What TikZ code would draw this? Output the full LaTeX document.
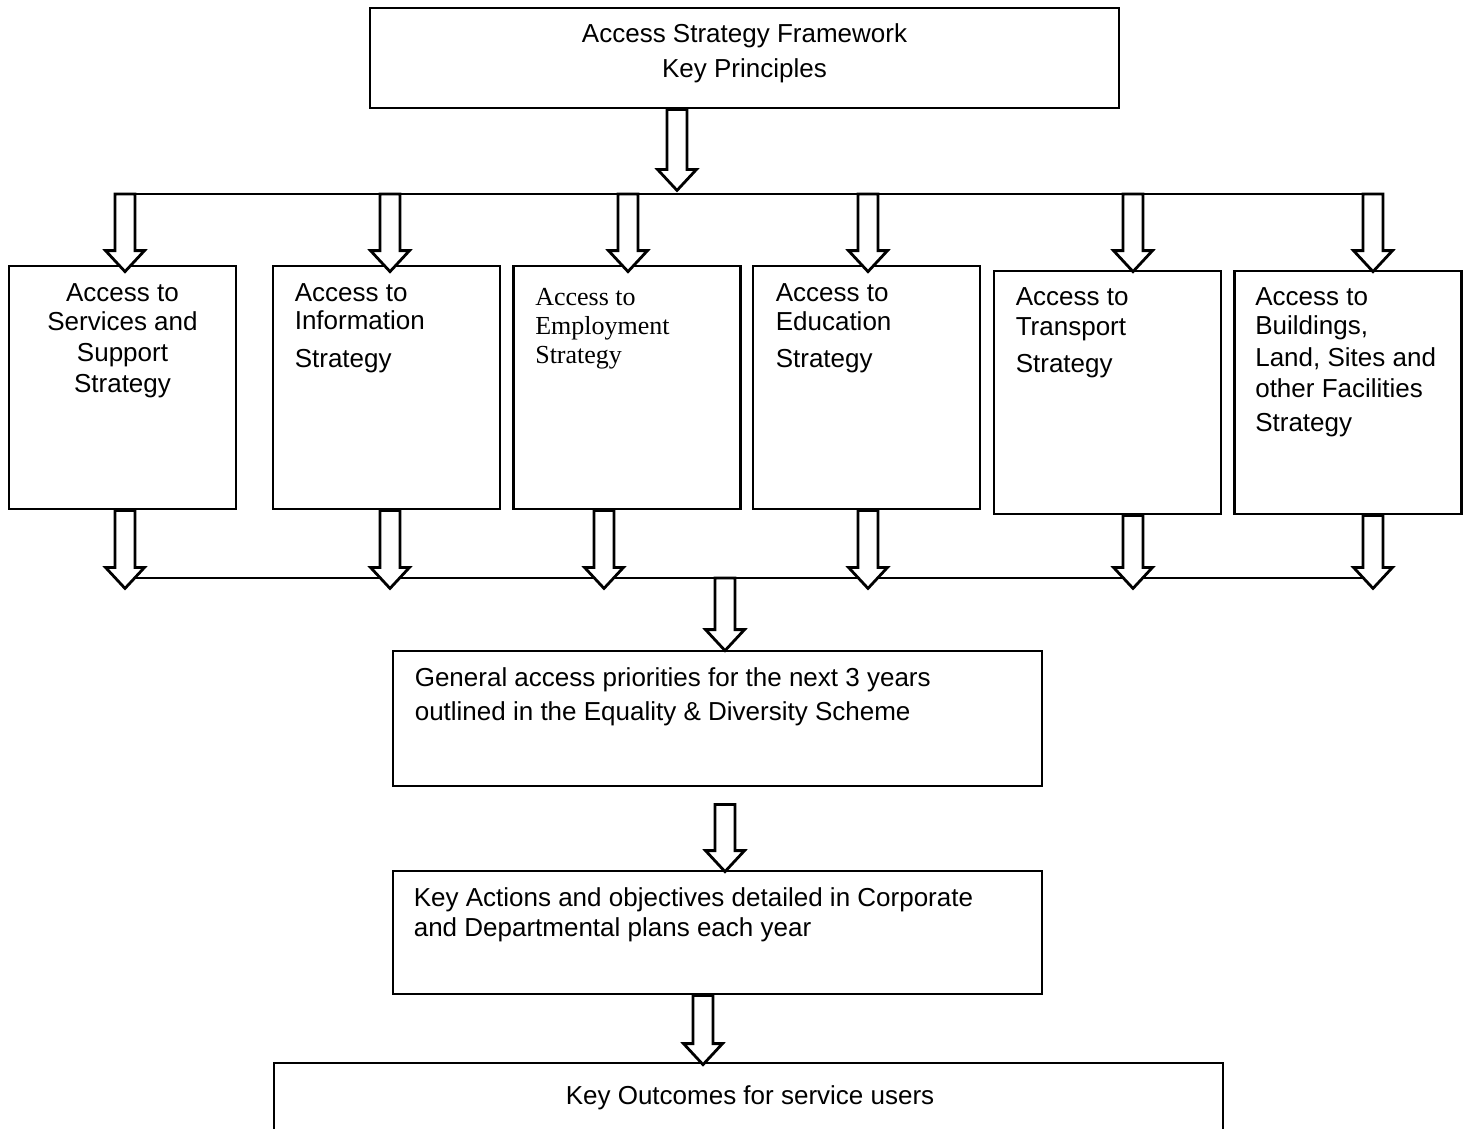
\documentclass[tikz,border=0pt]{standalone}
\usepackage{fontspec}
\setmainfont{Liberation Sans}
\newfontfamily\timesface{Liberation Serif}
\usetikzlibrary{calc}
\tikzset{>=latex}

% hollow block arrow: shaft from the level of #1 down to the tip #2
\newcommand{\blockarrow}[2]{%
	\draw[blockarr] let \p1 = (#1), \p2 = (#2) in
		(\x2-10pt,\y1) -- (\x2-10pt,\y2+21pt) -- (\x2-19.5pt,\y2+21pt) -- (\p2)
		-- (\x2+19.5pt,\y2+21pt) -- (\x2+10pt,\y2+21pt) -- (\x2+10pt,\y1) -- cycle;}

\begin{document}
\begin{tikzpicture}[x=1pt, y=-1pt,
		box/.style={draw, line width=2.8pt, inner sep=0pt},
		stratbox/.style={box, minimum width=227pt, minimum height=243pt},
		blockarr/.style={draw, fill=white, line width=2.8pt, line join=miter},
		bus/.style={line width=2.8pt},
		txt/.style={inner sep=0pt, font=\fontsize{26}{30}\selectfont, align=left}]
	\useasboundingbox (0,0) rectangle (1465,1128);
	\clip (0,0) rectangle (1465,1128);

	% the two distribution lines
	\coordinate (busTL) at (130,194);
	\coordinate (busTR) at (1378,194);
	\coordinate (busBL) at (130,578);
	\coordinate (busBR) at (1378,578);
	\draw[bus] (busTL) -- (busTR);
	\draw[bus] (busBL) -- (busBR);

	% the framework box
	\node[box, minimum width=749pt, minimum height=100pt] (frame) at (744.5,58) {};
	\node[txt, align=center, anchor=north] (frameT) at ($(frame.north)+(0,17)$)
		{Access Strategy Framework\\[5pt] Key Principles};

	% the strategy boxes
	\node[stratbox] (svc) at (122.5,387.5) {};
	\node[stratbox] (inf) at (386.5,387.5) {};
	\node[stratbox] (emp) at (627,387.5) {};
	\node[stratbox] (edu) at (866.5,387.5) {};
	\node[stratbox] (trn) at (1107.5,392.5) {};
	\node[stratbox] (bld) at (1348,392.5) {};

	\node[txt, align=center, anchor=north] (svcT) at ($(svc.north)+(0,18.5)$)
		{Access to\\[-1pt] Services and\\[1pt] Support\\[1pt] Strategy};
	\node[txt, anchor=north west] (infT) at ($(inf.north west)+(23,19)$)
		{Access to\\[-2pt] Information\\[8pt] Strategy};
	\node[txt, font=\timesface\fontsize{26}{30}\selectfont, anchor=north west] (empT)
		at ($(emp.north west)+(23,23.5)$) {Access to\\[-1pt] Employment\\[-1pt] Strategy};
	\node[txt, anchor=north west] (eduT) at ($(edu.north west)+(24,18.5)$)
		{Access to\\[-1pt] Education\\[7pt] Strategy};
	\node[txt, anchor=north west] (trnT) at ($(trn.north west)+(23,17.5)$)
		{Access to\\ Transport\\[7pt] Strategy};
	\node[txt, anchor=north west] (bldT) at ($(bld.north west)+(22,18)$)
		{Access to\\[-1pt] Buildings,\\[2pt] Land, Sites and\\[1pt] other Facilities\\[4pt] Strategy};

	% the chain below
	\node[box, minimum width=649pt, minimum height=135pt] (gen) at (717.5,718.5) {};
	\node[txt, anchor=north west] (genT) at ($(gen.north west)+(23,18)$)
		{General access priorities for the next 3 years\\[4pt] outlined in the Equality \& Diversity Scheme};
	\node[box, minimum width=649pt, minimum height=123pt] (act) at (717.5,932.5) {};
	\node[txt, anchor=north west] (actT) at ($(act.north west)+(22,18)$)
		{Key Actions and objectives detailed in Corporate\\ and Departmental plans each year};
	\node[box, minimum width=949pt, minimum height=100pt] (out) at (748.5,1113) {};
	\node[txt, anchor=base] (outT) at ($(out.north)+(1.5,43)$) {Key Outcomes for service users};

	% framework to upper line
	\blockarrow{frame.south}{$(frame.south)+(-67.5,81)$}

	% upper line to the strategy boxes
	\blockarrow{busTL}{$(svc.north)+(2.5,7)$}
	\blockarrow{busTL}{$(inf.north)+(3.5,7)$}
	\blockarrow{busTL}{$(emp.north)+(1,7)$}
	\blockarrow{busTL}{$(edu.north)+(1.5,7)$}
	\blockarrow{busTL}{$(trn.north)+(25.5,2)$}
	\blockarrow{busTL}{$(bld.north)+(25,2)$}

	% strategy boxes to lower line
	\blockarrow{svc.south}{$(svc.south)+(2.5,78)$}
	\blockarrow{inf.south}{$(inf.south)+(3.5,78)$}
	\blockarrow{emp.south}{$(emp.south)+(-23,78)$}
	\blockarrow{edu.south}{$(edu.south)+(1.5,78)$}
	\blockarrow{trn.south}{$(trn.south)+(25.5,73)$}
	\blockarrow{bld.south}{$(bld.south)+(25,73)$}

	% lower line down to the outcomes
	\blockarrow{busBL}{$(gen.north)+(7.5,1)$}
	\blockarrow{$(gen.south)+(0,17)$}{$(act.north)+(7.5,2)$}
	\blockarrow{act.south}{$(out.north)+(-45.5,3)$}
\end{tikzpicture}
\end{document}
